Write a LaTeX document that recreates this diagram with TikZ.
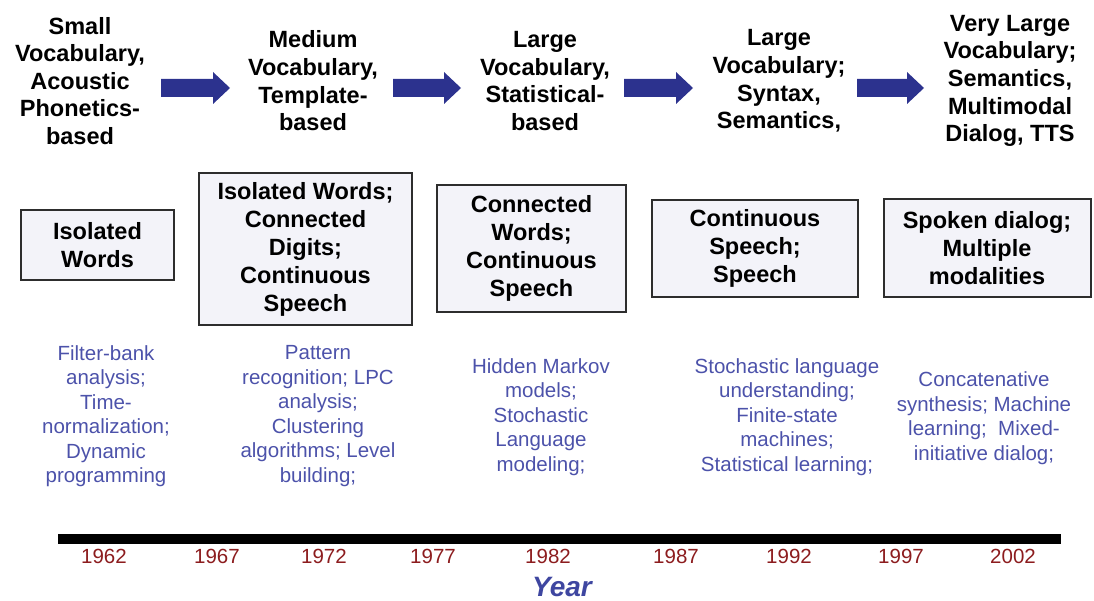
\documentclass[tikz,border=0pt]{standalone}
\usepackage{fontspec}
\setmainfont{Liberation Sans}
\definecolor{arrowblue}{RGB}{44,50,142}
\definecolor{techblue}{RGB}{76,82,170}
\definecolor{yearblue}{RGB}{62,70,160}
\definecolor{yearred}{RGB}{140,28,30}
\definecolor{boxfill}{RGB}{243,243,249}
\definecolor{boxline}{RGB}{45,45,45}
\begin{document}
\begin{tikzpicture}[x=1pt, y=-1pt]
  %
  \tikzstyle{hd} = [align=center, font=\fontsize{23.5}{27.6}\selectfont\bfseries, inner sep=0pt]
  \tikzstyle{era} = [draw=boxline, line width=2pt, fill=boxfill, align=center, font=\fontsize{23.5}{28}\selectfont\bfseries, inner sep=0pt]
  \tikzstyle{tech} = [text=techblue, align=center, font=\fontsize{20.5}{24.5}\selectfont, inner sep=0pt]
  \tikzstyle{yr} = [text=yearred, font=\fontsize{20.5}{22}\selectfont, inner sep=0pt, anchor=base]
  \useasboundingbox (0,0) rectangle (1094,601);

  % headings
  \node[hd] (h1) at (80,81) {Small\\Vocabulary,\\Acoustic\\Phonetics-\\based};
  \node[hd] (h2) at (313,81) {Medium\\Vocabulary,\\Template-\\based};
  \node[hd] (h3) at (545,81) {Large\\Vocabulary,\\Statistical-\\based};
  \node[hd] (h4) at (779,81) {Large\\Vocabulary;\\Syntax,\\Semantics,};
  \node[hd] (h5) at (1010,81) {Very Large\\Vocabulary;\\Semantics,\\Multimodal\\Dialog, TTS};

  % block arrows
  \foreach \s/\t in {161/230, 393/461, 624/693, 857/924}
    \fill[arrowblue] (\s,79) -- (\t-17,79) -- (\t-17,72) -- (\t,88)
      -- (\t-17,104) -- (\t-17,97) -- (\s,97) -- cycle;

  % task boxes
  \node[era, minimum width=153pt, minimum height=70pt] (b1) at (97.5,245) {Isolated\\Words};
  \node[era, minimum width=213pt, minimum height=152pt] (b2) at (305.5,249) {Isolated Words;\\Connected\\Digits;\\Continuous\\Speech};
  \node[era, minimum width=189pt, minimum height=127pt] (b3) at (531.5,248.5) {Connected\\Words;\\Continuous\\Speech};
  \node[era, minimum width=206pt, minimum height=97pt] (b4) at (755,248.5) {Continuous\\Speech;\\Speech};
  \node[era, minimum width=207pt, minimum height=98pt] (b5) at (987,248) {Spoken dialog;\\Multiple\\modalities};

  % technologies
  \node[tech] (t1) at (106,416) {Filter-bank\\analysis;\\Time-\\normalization;\\Dynamic\\programming};
  \node[tech] (t2) at (318,416) {Pattern\\recognition; LPC\\analysis;\\Clustering\\algorithms; Level\\building;};
  \node[tech] (t3) at (541,417) {Hidden Markov\\models;\\Stochastic\\Language\\modeling;};
  \node[tech] (t4) at (787,417) {Stochastic language\\understanding;\\Finite-state\\machines;\\Statistical learning;};
  \node[tech] (t5) at (984,418) {Concatenative\\synthesis; Machine\\learning;~ Mixed-\\initiative dialog;};

  % time line
  \fill (58,534) rectangle (1061,544);
  \foreach \yy/\xx in {1962/104, 1967/217, 1972/324, 1977/433, 1982/548, 1987/676, 1992/789, 1997/901, 2002/1013}
    \node[yr] (y\yy) at (\xx,563) {\yy};
  \node[text=yearblue, font=\fontsize{28}{30}\selectfont\bfseries\itshape, inner sep=0pt, anchor=base] (year) at (562,596) {Year};
\end{tikzpicture}
\end{document}
